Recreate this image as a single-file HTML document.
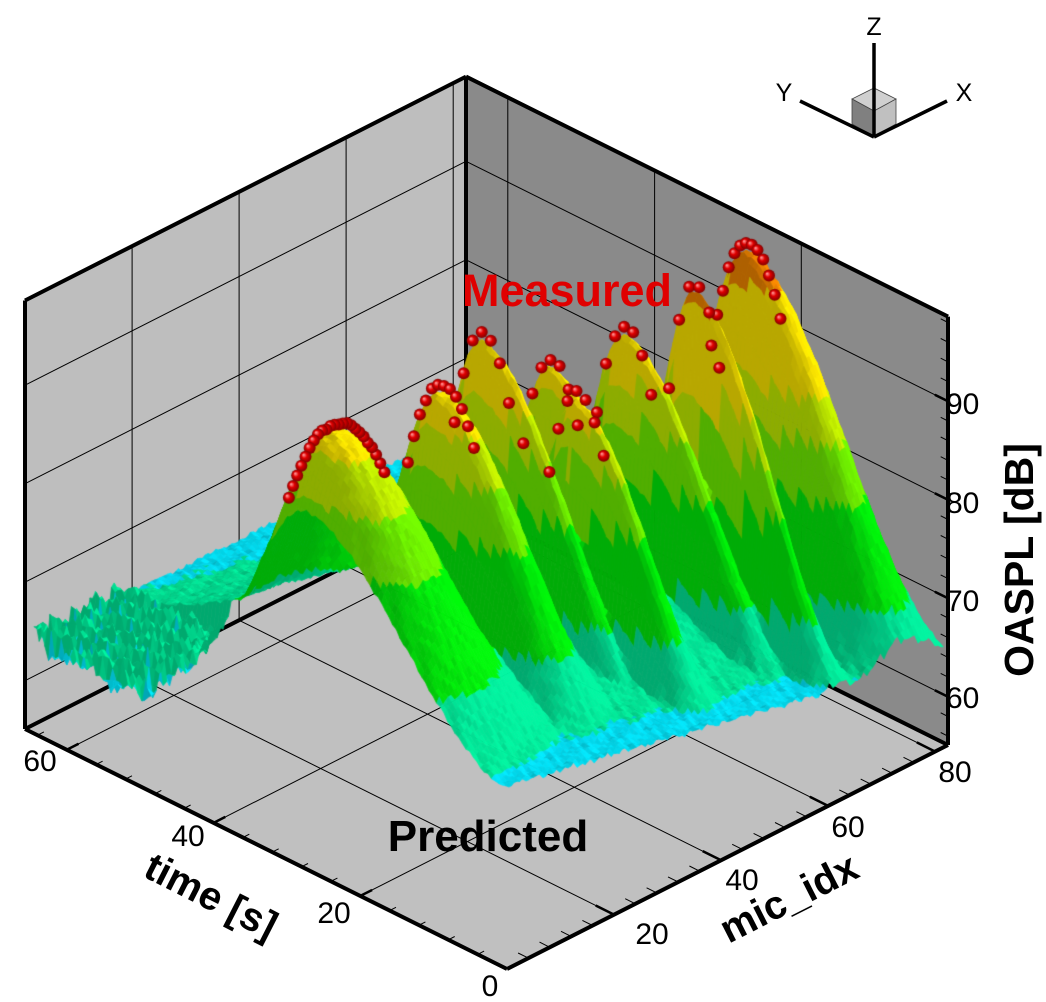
<!DOCTYPE html>
<html><head><meta charset="utf-8"><style>
html,body{margin:0;padding:0;background:#fff;}
#wrap{position:relative;width:1046px;height:1002px;overflow:hidden;font-family:"Liberation Sans",sans-serif;}
svg,canvas{position:absolute;left:0;top:0;}
</style></head><body><div id="wrap">
<svg id="bg" width="1046" height="1002"></svg>
<canvas id="cv" width="1046" height="1002"></canvas>
<svg id="fg" width="1046" height="1002" font-family="Liberation Sans, sans-serif">
<text x="567" y="306" font-size="45" font-weight="bold" fill="#e00000" text-anchor="middle">Measured</text>
<text x="488" y="851" font-size="44" font-weight="bold" fill="#000" text-anchor="middle">Predicted</text>
<g font-size="30" fill="#000" text-anchor="middle">
<text x="40" y="771">60</text><text x="188" y="846">40</text><text x="334" y="923">20</text><text x="490" y="996">0</text>
<text x="652" y="944">20</text><text x="742" y="890">40</text><text x="848" y="837">60</text><text x="955" y="782">80</text>
</g>
<g font-size="30" fill="#000" text-anchor="start">
<text x="946" y="414">90</text><text x="946" y="513">80</text><text x="946" y="611">70</text><text x="946" y="708">60</text>
</g>
<text transform="translate(205,908) rotate(27)" font-size="40" font-weight="bold" text-anchor="middle">time [s]</text>
<text transform="translate(795,910) rotate(-27)" font-size="40" font-weight="bold" text-anchor="middle">mic_idx</text>
<text transform="translate(1033,560) rotate(-90)" font-size="41" font-weight="bold" text-anchor="middle">OASPL [dB]</text>
<polygon points="852,99 874,88 896,99 874,111" fill="#d0d0d0" stroke="#444" stroke-width="0.8"/>
<polygon points="852,99 874,111 874,136 852,124" fill="#808080" stroke="#444" stroke-width="0.8"/>
<polygon points="874,111 896,99 896,124 874,136" fill="#c0c0c0" stroke="#444" stroke-width="0.8"/>
<line x1="874" y1="43" x2="874" y2="137" stroke="#000" stroke-width="3.5"/>
<line x1="800" y1="101" x2="874" y2="137" stroke="#000" stroke-width="3.5"/>
<line x1="947" y1="101" x2="874" y2="137" stroke="#000" stroke-width="3.5"/>
<g font-size="25" fill="#000" text-anchor="middle">
<text x="874" y="35">Z</text><text x="784" y="101">Y</text><text x="964" y="101">X</text>
</g>
</svg>
</div>
<script>
(function(){
const O=[507,969],T=[-7.336,-3.653],M=[5.352,-2.718],ZS=9.85,Z0=55.1;
const TM=65.7,MM=82.4,ZM=98.6;
function P(t,m,z){return [O[0]+T[0]*t+M[0]*m, O[1]+T[1]*t+M[1]*m-ZS*(z-Z0)];}
const bg=document.getElementById('bg');
let s='';
function poly(pts,fill){s+='<polygon points="'+pts.map(p=>p[0].toFixed(1)+','+p[1].toFixed(1)).join(' ')+'" fill="'+fill+'"/>';}
function line(a,b,w){s+='<line x1="'+a[0].toFixed(1)+'" y1="'+a[1].toFixed(1)+'" x2="'+b[0].toFixed(1)+'" y2="'+b[1].toFixed(1)+'" stroke="#000" stroke-width="'+w+'"/>';}
poly([P(0,0,Z0),P(TM,0,Z0),P(TM,MM,Z0),P(0,MM,Z0)],'#c0c0c0');
poly([P(TM,0,Z0),P(TM,MM,Z0),P(TM,MM,ZM),P(TM,0,ZM)],'#bebebe');
poly([P(0,MM,Z0),P(TM,MM,Z0),P(TM,MM,ZM),P(0,MM,ZM)],'#8a8a8a');
for(const t of [20,40,60]){line(P(t,0,Z0),P(t,MM,Z0),1);line(P(t,MM,Z0),P(t,MM,ZM),1);}
for(const m of [20,40,60,80]){line(P(0,m,Z0),P(TM,m,Z0),1);line(P(TM,m,Z0),P(TM,m,ZM),1);}
for(const z of [60,70,80,90]){line(P(TM,0,z),P(TM,MM,z),1);line(P(TM,MM,z),P(0,MM,z),1);}
const E=[[P(0,0,Z0),P(TM,0,Z0)],[P(0,0,Z0),P(0,MM,Z0)],[P(TM,0,Z0),P(TM,MM,Z0)],[P(0,MM,Z0),P(TM,MM,Z0)],
[P(TM,0,Z0),P(TM,0,ZM)],[P(TM,MM,Z0),P(TM,MM,ZM)],[P(0,MM,Z0),P(0,MM,ZM)],[P(TM,0,ZM),P(TM,MM,ZM)],[P(TM,MM,ZM),P(0,MM,ZM)]];
for(const e of E)line(e[0],e[1],4);
for(let t=4;t<TM;t+=4){const a=P(t,0,Z0),b=P(t,t%20==0?2.2:1.2,Z0);line(a,b,t%20==0?2.5:1);}
for(let m=4;m<MM;m+=4){const a=P(0,m,Z0),b=P(m%20==0?2.5:1.4,m,Z0);line(a,b,m%20==0?2.5:1);}
for(let z=56;z<ZM;z+=2){const a=P(0,MM,z),b=P(z%10==0?1.8:1,MM,z);line(a,b,z%10==0?2.5:1);}
bg.innerHTML=s;

const peaks=[[23,40,88.5,10,28,8],[37,36,90,5,24,7],[46,37,92.5,3,24,6],[52,32,90,3,22,6],[50,27,89,3,20,6],[63,30,91,3,24,6],[66.5,23,97,2.3,22,6],[77,23.6,98,5.5,28,7]];
function nz(t,m){return Math.sin(t*2.3+Math.sin(m*1.3)*2)*Math.cos(m*1.9+t*0.7)*0.5+Math.sin(t*5.1+m*3.7)*0.3;}
function H(t,m){
 let base=64+8*Math.exp(-Math.pow((t-(40-0.22*(m-22)))/14,2));
 let amp=0.35;
 if(m<17){base=63.6+(Math.sin(m*1.7+t*0.9)>0.3?2.2:0);amp=1.2;}
 let z=base;
 for(const p of peaks){const [pm,pt,h,wm,wf,wb]=p;
  const dm=Math.abs(m-pm)/wm, fm=Math.exp(-Math.pow(dm,2.4));
  const dt=t-pt; let ft;
  if(dt<0){ft=Math.max(0,1+dt/wf);ft=ft*ft*(3-2*ft);} else ft=Math.exp(-Math.pow(dt/wb,2));
  const v=64+(h-64)*fm*ft; if(v>z)z=v;}
 return z+nz(t,m)*amp;
}
function valid(t,m){
 if(m<0||m>81.5||t>64.5) return false;
 if(m<17) return t>=50;
 return t>=16-0.2*m;
}
function col(z){
 if(z<61) return [0,70,200];
 if(z<64.5) return [0,220,240];
 if(z<69.5) return [0,228,150];
 if(z<78) return [0,232,10];
 if(z<83) return [110,235,0];
 if(z<87) return [190,232,0];
 if(z<95.5) return [248,226,0];
 return [235,130,0];
}
const cv=document.getElementById('cv'),ctx=cv.getContext('2d');
const d=0.5,cells=[];
for(let t=-1;t<65;t+=d)for(let m=0;m<81.5;m+=d){
 if(valid(t,m)&&valid(t+d,m)&&valid(t,m+d)&&valid(t+d,m+d)) cells.push([t,m,t*3.653+m*2.718]);
}
cells.sort((a,b)=>b[2]-a[2]);
const L=(function(){const v=[-0.55,0.45,0.7];const n=Math.hypot(...v);return v.map(x=>x/n);})();
const Hc={};function HH(t,m){const k=t+'_'+m;if(Hc[k]===undefined)Hc[k]=H(t,m);return Hc[k];}
for(const c of cells){
 const [t,m]=c;
 const z00=HH(t,m),z10=HH(t+d,m),z01=HH(t,m+d),z11=HH(t+d,m+d);
 const za=(z00+z10+z01+z11)/4;
 const gx=((z10+z11)-(z00+z01))/2*ZS/(d*8.2), gy=((z01+z11)-(z00+z10))/2*ZS/(d*6.0);
 const nn=Math.hypot(gx,gy,1);const dot=(-gx*L[0]-gy*L[1]+L[2])/nn;
 const sh=Math.min(1.08,0.74+0.36*Math.max(0,dot));
 const cc=col(za).map(v=>Math.min(255,Math.round(v*sh)));
 const a=P(t,m,z00),b=P(t+d,m,z10),e=P(t+d,m+d,z11),f=P(t,m+d,z01);
 ctx.fillStyle=ctx.strokeStyle='rgb('+cc.join(',')+')';
 ctx.lineWidth=0.7;
 ctx.beginPath();ctx.moveTo(a[0],a[1]);ctx.lineTo(b[0],b[1]);ctx.lineTo(e[0],e[1]);ctx.lineTo(f[0],f[1]);ctx.closePath();ctx.fill();ctx.stroke();
}
const dots=[];
for(const p of peaks){const [pm,pt,h,wm]=p;const n=Math.max(5,Math.round(wm*2.4));
 for(let i=0;i<n;i++){const u=i/(n-1)-0.5;const m=pm+u*2*wm*0.55;const t=pt-u*5;dots.push([t,m,H(t,m)+0.8]);}}
dots.sort((a,b)=>(b[0]*3.653+b[1]*2.718)-(a[0]*3.653+a[1]*2.718));
for(const q of dots){const p=P(q[0],q[1],q[2]);
 const g=ctx.createRadialGradient(p[0]-2,p[1]-2,0.5,p[0],p[1],6);
 g.addColorStop(0,'#ff9090');g.addColorStop(0.4,'#e00000');g.addColorStop(1,'#800000');
 ctx.fillStyle=g;ctx.beginPath();ctx.arc(p[0],p[1],6,0,Math.PI*2);ctx.fill();}
})();
</script>
</body></html>
